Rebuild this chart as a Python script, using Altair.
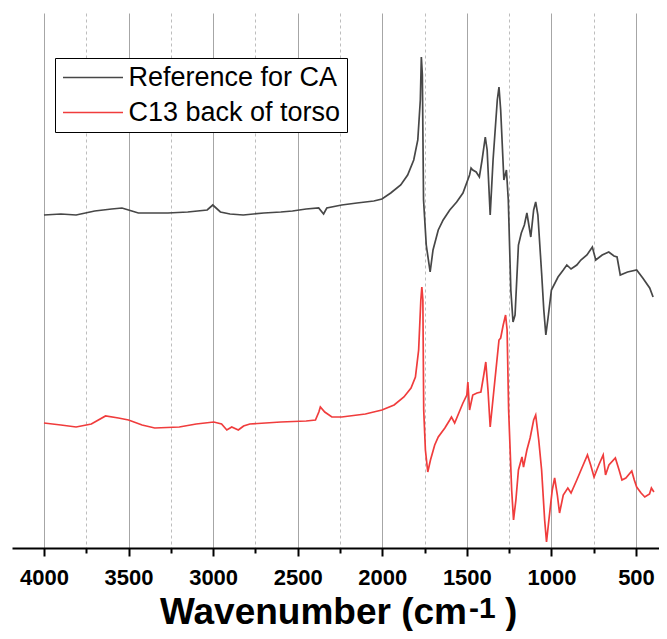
import altair as alt
import pandas as pd

# ---- data (wavenumber cm-1, offset absorbance a.u.) ----
wn_ref = [4000, 3900, 3810, 3700, 3600, 3539, 3500, 3442, 3350, 3267, 3150, 3035, 3002, 2957,
          2900, 2822, 2700, 2600, 2531, 2450, 2376, 2347, 2328, 2240, 2150, 2050, 2002, 1950,
          1891, 1850, 1814, 1790, 1775, 1769, 1763, 1756, 1740, 1717, 1700, 1669, 1640, 1601,
          1560, 1523, 1484, 1475, 1465, 1445, 1426, 1410, 1391, 1380, 1362, 1345, 1320, 1310,
          1300, 1281, 1266, 1255, 1240, 1227, 1215, 1195, 1178, 1160, 1145, 1122, 1105, 1093,
          1080, 1058, 1045, 1033, 1020, 1000, 961, 930, 909, 884, 850, 826, 790, 758, 738, 700,
          661, 630, 612, 593, 550, 496, 460, 419, 399]
ab_ref = [3.33, 3.34, 3.33, 3.37, 3.39, 3.40, 3.38, 3.35, 3.35, 3.35, 3.36, 3.38, 3.43, 3.36,
          3.34, 3.33, 3.35, 3.36, 3.37, 3.39, 3.40, 3.34, 3.40, 3.43, 3.45, 3.47, 3.49, 3.55,
          3.63, 3.73, 3.88, 4.08, 4.48, 4.91, 4.73, 3.48, 3.03, 2.76, 2.98, 3.18, 3.28, 3.38,
          3.46, 3.55, 3.73, 3.80, 3.78, 3.76, 3.71, 3.88, 4.11, 3.98, 3.33, 3.88, 4.48, 4.61,
          4.38, 3.68, 3.78, 3.48, 2.58, 2.26, 2.33, 3.03, 3.15, 3.23, 3.35, 3.11, 3.38, 3.46,
          3.33, 2.75, 2.38, 2.13, 2.30, 2.58, 2.71, 2.78, 2.83, 2.79, 2.83, 2.88, 2.93, 3.01,
          2.88, 2.93, 2.96, 2.92, 2.91, 2.73, 2.76, 2.78, 2.70, 2.60, 2.51]

wn_c13 = [4000, 3900, 3810, 3720, 3636, 3560, 3500, 3420, 3345, 3200, 3100, 2996, 2950, 2919,
          2890, 2851, 2820, 2783, 2600, 2450, 2395, 2375, 2366, 2340, 2298, 2240, 2100, 2002,
          1930, 1872, 1830, 1804, 1785, 1772, 1766, 1760, 1755, 1745, 1731, 1715, 1690, 1669,
          1630, 1601, 1591, 1572, 1545, 1523, 1500, 1494, 1484, 1465, 1440, 1417, 1400, 1388,
          1375, 1362, 1340, 1310, 1300, 1285, 1271, 1262, 1253, 1235, 1224, 1210, 1195, 1174,
          1165, 1145, 1126, 1105, 1093, 1075, 1058, 1040, 1029, 1015, 995, 981, 965, 952, 930,
          903, 884, 850, 820, 787, 768, 748, 720, 694, 680, 660, 622, 600, 583, 560, 525, 510,
          496, 470, 448, 420, 409, 394]
ab_c13 = [1.25, 1.23, 1.21, 1.24, 1.32, 1.30, 1.28, 1.23, 1.20, 1.21, 1.24, 1.26, 1.24, 1.18,
          1.21, 1.18, 1.22, 1.24, 1.26, 1.27, 1.28, 1.36, 1.41, 1.36, 1.31, 1.31, 1.34, 1.38,
          1.43, 1.51, 1.60, 1.71, 1.98, 2.48, 2.61, 2.48, 1.38, 0.98, 0.76, 0.88, 1.03, 1.11,
          1.20, 1.28, 1.31, 1.25, 1.36, 1.45, 1.53, 1.66, 1.38, 1.53, 1.55, 1.56, 1.73, 1.86,
          1.58, 1.21, 1.58, 2.08, 2.10, 2.23, 2.33, 2.18, 1.38, 0.58, 0.28, 0.48, 0.78, 0.91,
          0.81, 0.98, 1.10, 1.28, 1.33, 1.08, 0.78, 0.28, 0.06, 0.28, 0.58, 0.70, 0.53, 0.35, 0.53,
          0.60, 0.55, 0.68, 0.80, 0.93, 0.83, 0.71, 0.83, 0.93, 0.73, 0.83, 0.90, 0.78, 0.68, 0.70,
          0.77, 0.68, 0.61, 0.55, 0.51, 0.54, 0.60, 0.56]

series_names = ["Reference for CA", "C13 back of torso"]
series_colors = ["#474747", "#f03c3c"]
major_ticks = [4000, 3500, 3000, 2500, 2000, 1500, 1000, 500]
minor_ticks = [3750, 3250, 2750, 2250, 1750, 1250, 750]
x_domain = [4189, 364]
y_domain = [0, 5.35]
title_main = "Wavenumber (cm"
title_sup = "-1"
title_end = ")"

df = pd.concat([
    pd.DataFrame({"wn": wn_ref, "ab": ab_ref, "series": series_names[0]}),
    pd.DataFrame({"wn": wn_c13, "ab": ab_c13, "series": series_names[1]}),
], ignore_index=True)

FONT = "Liberation Sans"
xscale = alt.Scale(domain=x_domain, nice=False, zero=False)
yscale = alt.Scale(domain=y_domain, nice=False, zero=False)

base = alt.Chart(df)

minor = base.mark_line(opacity=0).encode(
    x=alt.X("wn:Q", scale=xscale,
            axis=alt.Axis(values=minor_ticks, labels=False, title=None, orient="bottom",
                          grid=True, gridDash=[3, 3], gridColor="#bdbdbd", gridWidth=1,
                          ticks=True, tickSize=5, tickWidth=2, tickColor="black",
                          domain=False)),
    y=alt.Y("ab:Q", scale=yscale, axis=None),
    detail="series:N",
)

lines = base.mark_line(strokeWidth=1.7, clip=True).encode(
    x=alt.X("wn:Q", scale=xscale,
            axis=alt.Axis(values=major_ticks, format="d", title=None, orient="bottom",
                          grid=True, gridColor="#a6a6a6", gridWidth=1,
                          ticks=True, tickSize=8, tickWidth=2, tickColor="black",
                          domain=True, domainColor="black", domainWidth=2,
                          labelFont=FONT, labelFontSize=22, labelFontWeight="bold",
                          labelColor="black", labelPadding=11)),
    y=alt.Y("ab:Q", scale=yscale, axis=None),
    color=alt.Color("series:N",
                    scale=alt.Scale(domain=series_names, range=series_colors),
                    legend=alt.Legend(title=None, orient="none", legendX=43, legendY=45,
                                      symbolType="M-3,0H3", symbolSize=400,
                                      symbolStrokeWidth=1.7, symbolOffset=18.5,
                                      labelOffset=22, labelFont=FONT, labelFontSize=27,
                                      labelColor="black", labelLimit=500, rowPadding=7,
                                      padding=6, strokeColor="black", fillColor="white",
                                      cornerRadius=0)),
)

t1 = alt.Chart(pd.DataFrame({"t": [title_main]})).mark_text(
    font=FONT, fontSize=37, fontWeight="bold", align="right", baseline="alphabetic",
    color="black").encode(text="t:N", x=alt.value(455), y=alt.value(611))
t2 = alt.Chart(pd.DataFrame({"t": [title_sup]})).mark_text(
    font=FONT, fontSize=30, fontWeight="bold", align="left", baseline="alphabetic",
    color="black").encode(text="t:N", x=alt.value(457), y=alt.value(605))
t3 = alt.Chart(pd.DataFrame({"t": [title_end]})).mark_text(
    font=FONT, fontSize=37, fontWeight="bold", align="left", baseline="alphabetic",
    color="black").encode(text="t:N", x=alt.value(493), y=alt.value(611))

chart = alt.layer(minor, lines, t1, t2, t3).resolve_axis(x="independent").properties(
    width=647, height=535,
    padding={"left": 4, "top": 5, "right": 0, "bottom": 0},
    background="white",
).configure_view(stroke=None)

chart.save("out.html", embed_options={"renderer": "svg", "actions": False})
